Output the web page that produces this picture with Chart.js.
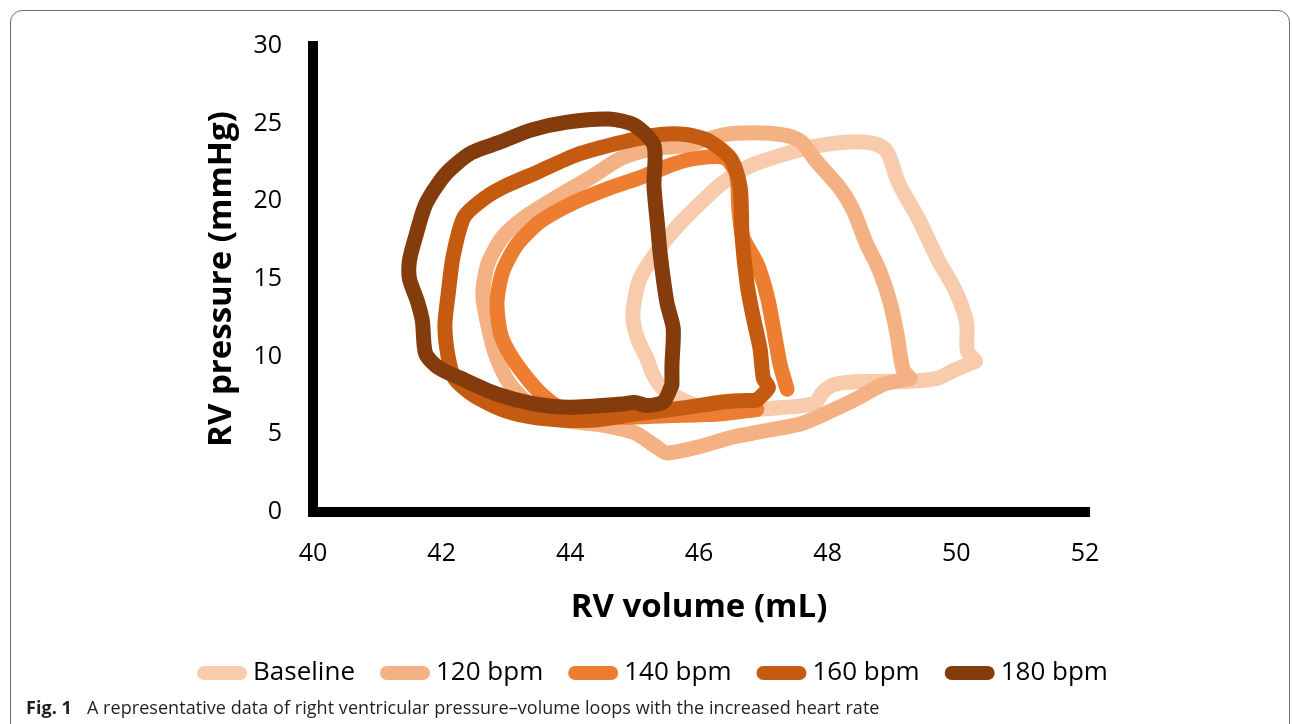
<!DOCTYPE html>
<html>
<head>
<meta charset="utf-8">
<script src="https://cdn.jsdelivr.net/npm/chart.js@4.4.1/dist/chart.umd.min.js"></script>
<style>
  html, body { margin: 0; padding: 0; background: #fff; }
  #wrap { position: relative; width: 1292px; height: 724px; overflow: hidden; }
  #frame { position: absolute; left: 10px; top: 10px; width: 1280px; height: 800px;
           border: 1px solid #6d6d6d; border-radius: 12px; box-sizing: border-box; }
  #chart { position: absolute; left: 0; top: 0; }
  #caption { position: absolute; left: 26px; top: 695px; font: 18px "Open Sans"; color: #231f20; white-space: nowrap; letter-spacing: 0.05px; }
  #caption span { margin-left: 15px; }
</style>
</head>
<body>
<div id="wrap">
  <div id="frame"></div>
  <canvas id="chart" width="1292" height="724"></canvas>
  <div id="caption"><b>Fig. 1</b><span>A representative data of right ventricular pressure–volume loops with the increased heart rate</span></div>
</div>
<script>
var seriesNames = ["Baseline", "120 bpm", "140 bpm", "160 bpm", "180 bpm"];
var seriesColors = ["#F8CBAD", "#F4B183", "#ED7D31", "#C55A11", "#843C0C"];

// RV volume (mL) / RV pressure (mmHg)
var baselineVolume   = [50.3, 49.95, 49.7, 49.2, 48.5, 48.1, 47.92, 47.8, 47.2, 46.5, 46.0, 45.7, 45.45, 45.29, 45.19, 45.06, 44.98, 44.98, 45.08, 45.3, 45.6, 46.0, 46.37, 46.8, 47.3, 47.75, 48.25, 48.6, 48.85, 48.95, 49.1, 49.42, 49.72, 49.98, 50.16, 50.17, 50.3];
var baselinePressure = [9.7, 9.1, 8.6, 8.4, 8.4, 8.2, 7.7, 7.0, 6.7, 6.55, 6.8, 7.3, 7.9, 8.8, 9.9, 11.0, 12.2, 13.2, 15.0, 16.5, 18.1, 19.8, 21.2, 22.3, 23.0, 23.5, 23.8, 23.8, 23.5, 23.0, 21.2, 18.8, 16.2, 14.3, 12.2, 10.4, 9.7];

var bpm120Volume   = [49.28, 48.85, 48.5, 48.05, 47.6, 47.0, 46.5, 46.0, 45.5, 45.3, 45.0, 44.5, 43.9, 43.4, 43.05, 42.85, 42.72, 42.64, 42.72, 42.95, 43.3, 43.8, 44.3, 44.8, 45.3, 45.8, 46.4, 47.0, 47.4, 47.6, 47.8, 48.2, 48.4, 48.6, 48.8, 48.97, 49.08, 49.17, 49.28];
var bpm120Pressure = [8.6, 8.2, 7.4, 6.5, 5.7, 5.2, 4.8, 4.2, 3.8, 4.3, 5.1, 5.6, 5.9, 6.8, 8.3, 10.0, 12.0, 14.0, 16.0, 17.7, 19.0, 20.3, 21.5, 22.8, 23.4, 23.6, 24.3, 24.4, 24.2, 23.8, 22.7, 20.8, 19.4, 17.3, 15.6, 13.5, 11.4, 9.2, 8.6];

var bpm140Volume   = [46.9, 46.3, 45.5, 44.8, 44.2, 43.8, 43.55, 43.35, 43.1, 42.92, 42.86, 42.95, 43.17, 43.53, 44.04, 44.57, 45.13, 45.6, 46.0, 46.4, 46.58, 46.62, 46.68, 46.9, 47.06, 47.15, 47.26, 47.37];
var bpm140Pressure = [6.6, 6.3, 6.2, 6.1, 6.3, 6.8, 7.6, 8.5, 9.9, 11.4, 13.5, 15.5, 17.2, 18.7, 19.9, 20.8, 21.6, 22.4, 22.8, 22.8, 21.8, 19.5, 17.7, 16.0, 13.9, 12.0, 9.5, 7.9];

var bpm160Volume   = [46.9, 46.4, 45.75, 45.0, 44.3, 43.5, 43.0, 42.5, 42.2, 42.1, 42.05, 42.1, 42.18, 42.35, 42.7, 43.0, 43.5, 44.1, 44.8, 45.4, 45.8, 46.15, 46.5, 46.64, 46.67, 46.75, 46.84, 46.95, 47.0, 47.08, 46.9];
var bpm160Pressure = [7.2, 7.1, 6.7, 6.3, 5.9, 6.05, 6.5, 7.5, 8.6, 10.0, 12.0, 14.0, 16.5, 19.0, 20.3, 21.0, 21.9, 23.0, 23.8, 24.3, 24.3, 23.9, 22.7, 20.9, 17.7, 14.6, 12.6, 10.5, 8.6, 8.0, 7.2];

var bpm180Volume   = [45.58, 45.45, 45.2, 45.0, 44.8, 44.0, 43.4, 42.85, 42.3, 41.95, 41.75, 41.7, 41.62, 41.5, 41.5, 41.6, 41.75, 42.05, 42.45, 42.9, 43.4, 43.95, 44.6, 45.0, 45.3, 45.3, 45.35, 45.4, 45.5, 45.6, 45.58, 45.58];
var bpm180Pressure = [8.2, 7.1, 6.85, 7.05, 6.95, 6.75, 7.0, 7.6, 8.6, 9.3, 10.2, 12.3, 13.6, 15.0, 16.2, 17.8, 19.8, 21.7, 23.1, 23.8, 24.6, 25.1, 25.3, 24.9, 23.6, 21.0, 18.7, 16.5, 13.5, 11.8, 9.5, 8.2];

var volumeMin = 40, volumeMax = 52, volumeStep = 2;
var pressureMin = 0, pressureMax = 30, pressureStep = 5;

function toPoints(xs, ys) {
    var pts = [];
    for (var i = 0; i < xs.length; i++) {
        pts.push({x: xs[i], y: ys[i]});
    }
    return pts;
}

var loops = [
    toPoints(baselineVolume, baselinePressure),
    toPoints(bpm120Volume, bpm120Pressure),
    toPoints(bpm140Volume, bpm140Pressure),
    toPoints(bpm160Volume, bpm160Pressure),
    toPoints(bpm180Volume, bpm180Pressure)
];

var datasets = [];
for (var i = 0; i < loops.length; i++) {
    datasets.push({
        label: seriesNames[i],
        data: loops[i],
        showLine: true,
        borderColor: seriesColors[i],
        backgroundColor: seriesColors[i],
        borderWidth: 15,
        borderCapStyle: 'round',
        borderJoinStyle: 'round',
        pointRadius: 0,
        pointHoverRadius: 0,
        tension: 0.25,
        order: loops.length - i
    });
}

var tickFont = {family: 'Open Sans', size: 25};
var titleFont = {family: 'Open Sans', size: 33, weight: 'bold'};

// move the legend row so its middle sits where the figure has it
var legendCentre = 656;
var legendShift = {
    id: 'legendShift',
    afterLayout: function (chart) {
        var lg = chart.legend;
        var d = legendCentre - (lg.left + lg.right) / 2;
        lg.left += d;
        lg.right += d;
    }
};

var ctx = document.getElementById('chart');
var myChart = new Chart(ctx, {
    type: 'scatter',
    data: {datasets: datasets},
    plugins: [legendShift],
    options: {
        responsive: false,
        animation: false,
        layout: {padding: {left: 20, right: 207, top: 40, bottom: 28}},
        plugins: {
            tooltip: {enabled: false},
            legend: {
                position: 'bottom',
                labels: {
                    usePointStyle: true,
                    pointStyle: 'line',
                    pointStyleWidth: 36,
                    padding: 32,
                    color: '#000',
                    font: {family: 'Open Sans', size: 26},
                    sort: function (a, b) { return a.datasetIndex - b.datasetIndex; },
                    generateLabels: function (chart) {
                        var items = Chart.defaults.plugins.legend.labels.generateLabels(chart);
                        items.forEach(function (it) {
                            it.lineCap = 'round';
                            it.lineWidth = 14;
                        });
                        return items;
                    }
                }
            }
        },
        scales: {
            x: {
                type: 'linear',
                min: volumeMin,
                max: volumeMax,
                ticks: {stepSize: volumeStep, color: '#000', font: tickFont, padding: 27},
                grid: {display: false, drawTicks: false, lineWidth: 10},
                border: {display: true, width: 10, color: '#000'},
                title: {display: true, text: 'RV volume (mL)', color: '#000', font: titleFont, padding: {top: 0, bottom: 1}},
                afterFit: function (s) { s.height = 116; }
            },
            y: {
                type: 'linear',
                min: pressureMin,
                max: pressureMax,
                ticks: {stepSize: pressureStep, color: '#000', font: tickFont, padding: 31},
                grid: {display: false, drawTicks: false, lineWidth: 10},
                border: {display: true, width: 10, color: '#000'},
                title: {display: true, text: 'RV pressure (mmHg)', color: '#000', font: titleFont, padding: {top: 182, bottom: 0}},
                afterFit: function (s) { s.width = 293; }
            }
        }
    }
});
</script>
</body>
</html>
